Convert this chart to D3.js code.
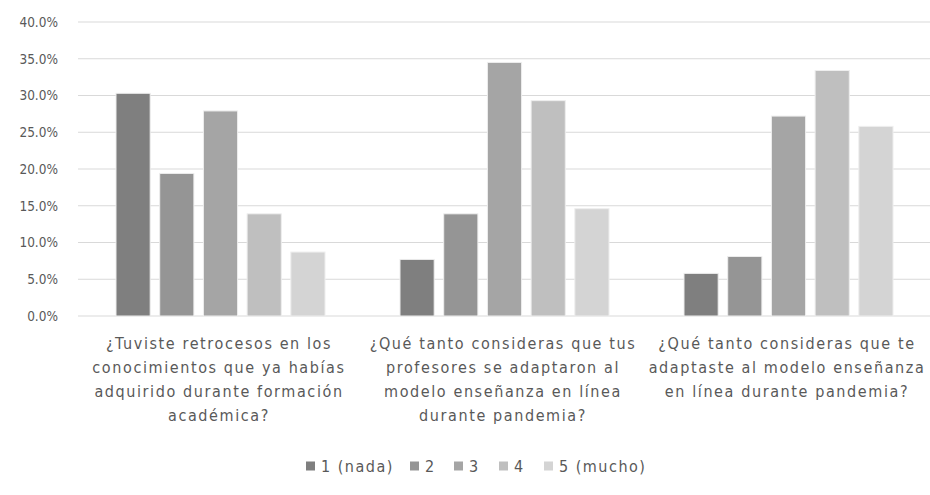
<!DOCTYPE html>
<html>
<head>
<meta charset="utf-8">
<script src="https://cdn.jsdelivr.net/npm/d3@7"></script>
<style>
  body { margin:0; background:#fff; }
  text { font-family: "DejaVu Sans Condensed", sans-serif; fill:#595959; }
</style>
</head>
<body>
<svg id="chart" width="930" height="495"></svg>
<script>
var categories = [
  ["¿Tuviste retrocesos en los", "conocimientos que ya habías", "adquirido durante formación", "académica?"],
  ["¿Qué tanto consideras que tus", "profesores se adaptaron al", "modelo enseñanza en línea", "durante pandemia?"],
  ["¿Qué tanto consideras que te", "adaptaste al modelo enseñanza", "en línea durante pandemia?"]
];
var seriesNames = ["1 (nada)", "2", "3", "4", "5 (mucho)"];
var values = [
  [30.3, 19.4, 27.9, 13.9, 8.7],
  [7.7, 13.9, 34.5, 29.3, 14.6],
  [5.8, 8.1, 27.2, 33.4, 25.8]
];
var yTicks = [0, 5, 10, 15, 20, 25, 30, 35, 40];
var colors = ["#7f7f7f", "#959595", "#a5a5a5", "#bfbfbf", "#d4d4d4"];

var svg = d3.select("#chart");
var plot = { left:78, right:930, top:22, bottom:316 };

var yScale = d3.scaleLinear().domain([0, 40]).range([plot.bottom, plot.top]);
var x0 = d3.scaleBand().domain(d3.range(categories.length)).range([plot.left, plot.right]);
var x1 = d3.scaleBand().domain(d3.range(seriesNames.length)).range([38, 247]).paddingInner(0.218);

// grid
svg.append("g").selectAll("line")
  .data(yTicks)
  .enter()
  .append("line")
  .attr("x1", plot.left).attr("x2", plot.right)
  .attr("y1", function(d){ return yScale(d); })
  .attr("y2", function(d){ return yScale(d); })
  .attr("stroke", "#d9d9d9")
  .attr("stroke-width", 1);

// y axis labels
var yAxis = d3.axisLeft(yScale).tickValues(yTicks)
  .tickFormat(function(d){ return d.toFixed(1) + "%"; })
  .tickSize(0).tickPadding(20);
var ya = svg.append("g").attr("transform", "translate(" + plot.left + ",0)").call(yAxis);
ya.select(".domain").remove();
ya.selectAll("text").style("font-size", "13.5px").attr("fill", "#595959")
  .style("font-family", "'DejaVu Sans Condensed', sans-serif");

// bars
var groups = svg.append("g").selectAll("g")
  .data(values)
  .enter()
  .append("g")
  .attr("transform", function(d, i){ return "translate(" + x0(i) + ",0)"; });

groups.selectAll("rect")
  .data(function(d){ return d; })
  .enter()
  .append("rect")
  .attr("x", function(d, j){ return x1(j); })
  .attr("y", function(d){ return yScale(d); })
  .attr("width", x1.bandwidth())
  .attr("height", function(d){ return yScale(0) - yScale(d); })
  .attr("fill", function(d, j){ return colors[j]; })
  .attr("stroke", "#eeeeee")
  .attr("stroke-width", 1);

// category labels
var labels = svg.append("g").selectAll("text")
  .data(categories)
  .enter()
  .append("text")
  .attr("text-anchor", "middle")
  .attr("x", function(d, i){ return x0(i) + x0.bandwidth() / 2 - 1; })
  .attr("y", 349)
  .style("font-size", "16px")
  .style("letter-spacing", "1.6px");

labels.selectAll("tspan")
  .data(function(d){ return d; })
  .enter()
  .append("tspan")
  .attr("x", function(){ return d3.select(this.parentNode).attr("x"); })
  .attr("dy", function(d, k){ return k === 0 ? 0 : 24; })
  .text(function(d){ return d; });

// legend
var legendX = [306, 410, 454, 499, 544];
var legend = svg.append("g").selectAll("g")
  .data(seriesNames)
  .enter()
  .append("g")
  .attr("transform", function(d, i){ return "translate(" + legendX[i] + ",466)"; });

legend.append("rect")
  .attr("x", 0).attr("y", -4.5)
  .attr("width", 9).attr("height", 9)
  .attr("fill", function(d, i){ return colors[i]; });

legend.append("text")
  .attr("x", 15).attr("y", 5.5)
  .style("font-size", "16px")
  .style("letter-spacing", "1.5px")
  .text(function(d){ return d; });
</script>
</body>
</html>
